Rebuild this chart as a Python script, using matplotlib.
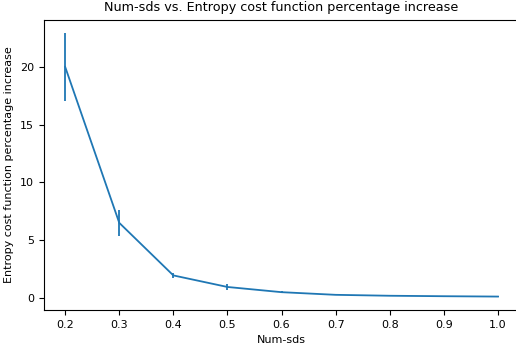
import matplotlib
matplotlib.use("Agg")
import matplotlib.pyplot as plt

num_sds = [0.2, 0.3, 0.4, 0.5, 0.6, 0.7, 0.8, 0.9, 1.0]
pct_increase = [20.0, 6.5, 1.95, 0.95, 0.5, 0.27, 0.19, 0.15, 0.12]
pct_err = [2.95, 1.1, 0.22, 0.3, 0.08, 0.04, 0.03, 0.03, 0.02]

fig = plt.figure(figsize=(5.16, 3.5), dpi=100)
# axes run slightly past the right edge of the figure, as in the reference
ax = fig.add_axes([43.5 / 516, 40 / 350, (519.6 - 43.5) / 516, 290.5 / 350])
ax.errorbar(num_sds, pct_increase, yerr=pct_err, color="#1f77b4", linewidth=1.3)
ax.set_title("Num-sds vs. Entropy cost function percentage increase", fontsize=9.2)
ax.set_xlabel("Num-sds", fontsize=8)
ax.set_ylabel("Entropy cost function percentage increase", fontsize=8)
ax.tick_params(labelsize=8)
ax.set_xticks([0.2, 0.3, 0.4, 0.5, 0.6, 0.7, 0.8, 0.9, 1.0])
ax.set_yticks([0, 5, 10, 15, 20])
fig.savefig("out.png")
